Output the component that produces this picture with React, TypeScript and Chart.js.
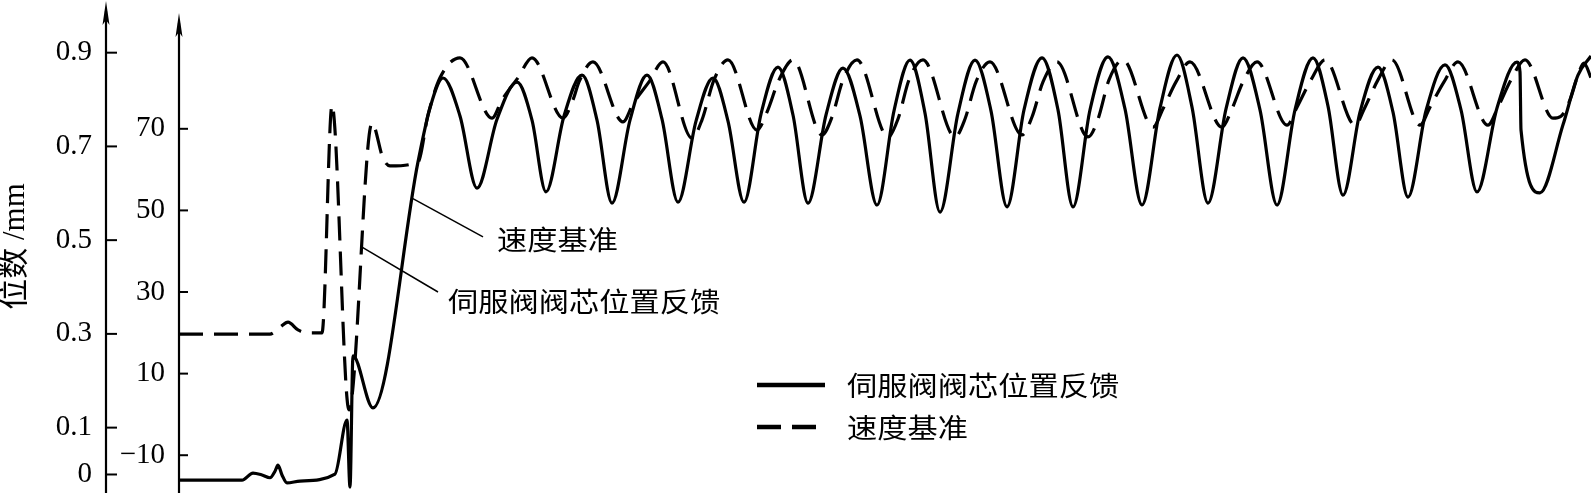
import React, { useEffect, useRef } from 'react';
import { Chart, registerables } from 'chart.js';

Chart.register(...registerables);

// time axis (arbitrary units)
const TIME_SOLID = [0, 6.3, 7.4, 8.3, 9.1, 9.6, 9.9, 10.3, 10.8, 12.1, 15.6, 16.8, 17.1, 17.4, 19.4, 23.9, 25.1, 26.4, 28.1, 29.8, 31.8, 33.8, 35.3, 36.7, 38.5, 40.3, 41.8, 43.3, 45.1, 46.8, 48.3, 49.9, 51.7, 53.4, 54.9, 56.5, 58.2, 59.9, 61.4, 62.9, 64.7, 66.4, 68.1, 69.8, 71.5, 73.1, 74.6, 76.1, 77.9, 79.6, 81.2, 82.8, 84.5, 86.3, 87.9, 89.4, 91.1, 92.9, 94.6, 96.3, 98.1, 99.8, 101.3, 102.9, 104.7, 106.4, 108.1, 109.8, 111.6, 113.4, 114.9, 116.4, 118.1, 119.9, 121.4, 122.9, 124.7, 126.6, 128.2, 129.8, 131.8, 133.8, 134.1, 134.2, 136.1, 138.4, 139.9, 141.2];
// 伺服阀阀芯位置反馈 (mm, outer axis)
const SPOOL_MM = [-0.012, -0.012, 0.003, -0.001, -0.007, 0.007, 0.020, -0.001, -0.018, -0.014, 0.001, 0.116, -0.027, 0.253, 0.142, 0.667, 0.782, 0.846, 0.765, 0.611, 0.758, 0.837, 0.756, 0.603, 0.765, 0.852, 0.756, 0.579, 0.756, 0.852, 0.758, 0.581, 0.754, 0.846, 0.754, 0.581, 0.769, 0.869, 0.767, 0.579, 0.767, 0.867, 0.765, 0.575, 0.776, 0.884, 0.771, 0.560, 0.771, 0.884, 0.776, 0.571, 0.778, 0.889, 0.778, 0.571, 0.778, 0.891, 0.780, 0.575, 0.782, 0.895, 0.784, 0.579, 0.780, 0.889, 0.778, 0.575, 0.778, 0.889, 0.786, 0.596, 0.773, 0.869, 0.773, 0.592, 0.776, 0.874, 0.778, 0.603, 0.782, 0.880, 0.859, 0.735, 0.601, 0.746, 0.852, 0.893];

const TIME_DASHED = [0, 9.1, 10.1, 10.9, 11.9, 12.8, 14.3, 15.3, 17.0, 19.3, 20.4, 21.1, 23.9, 24.9, 26.1, 28.1, 31.3, 32.3, 33.9, 35.3, 38.4, 39.4, 40.0, 41.4, 44.4, 45.4, 47.0, 48.4, 51.3, 52.3, 53.5, 54.9, 57.8, 58.8, 60.0, 61.4, 64.3, 65.3, 66.4, 67.8, 70.9, 71.9, 73.0, 74.4, 77.6, 78.6, 79.7, 81.1, 84.3, 85.3, 86.4, 87.8, 90.9, 91.9, 93.0, 94.4, 97.4, 98.4, 99.7, 101.1, 104.3, 105.3, 106.4, 107.8, 110.8, 111.8, 113.2, 114.6, 117.6, 118.6, 119.9, 121.3, 124.1, 125.1, 126.5, 127.9, 130.9, 131.9, 133.2, 134.6, 137.4, 138.2, 139.1, 139.9, 140.5, 141.2];
// 速度基准 (inner axis)
const SPEED_REF = [19.7, 19.7, 21.4, 22.6, 20.7, 20.0, 20.0, 75.8, 1.1, 71.4, 62.8, 60.9, 61.9, 73.4, 82.5, 87.4, 72.6, 77.1, 82.5, 87.4, 72.6, 77.1, 81.5, 86.4, 71.7, 76.1, 81.5, 86.4, 67.7, 72.2, 82.0, 86.9, 69.7, 74.1, 82.0, 86.9, 68.5, 72.9, 82.0, 86.9, 68.0, 72.4, 82.0, 86.9, 68.0, 72.4, 81.5, 86.4, 68.5, 72.9, 81.5, 86.4, 68.0, 72.4, 82.0, 86.9, 70.4, 74.9, 81.5, 86.4, 70.4, 74.9, 81.5, 86.4, 70.9, 75.3, 82.0, 86.9, 70.9, 75.3, 82.0, 86.9, 70.9, 75.3, 81.5, 86.4, 70.9, 75.3, 82.0, 86.9, 72.6, 73.1, 77.1, 83.2, 86.1, 82.5];

const OUTER_TICKS = [0, 0.1, 0.3, 0.5, 0.7, 0.9];
const INNER_TICKS = [-10, 10, 30, 50, 70];
const SERIES_LABELS = ['伺服阀阀芯位置反馈', '速度基准'];
const AXIS_TITLE = '位数 /mm';
const X_RANGE = [0, 141.2];
const OUTER_RANGE = [-0.0395, 1.0124];
const INNER_RANGE = [-19.26, 101.57];

// callouts in data units (x, inner axis)
const CALLOUT_TEXTS = ['速度基准', '伺服阀阀芯位置反馈'];
const CALLOUT_FROM = [[23.3, 53.0], [18.3, 41.0]];
const CALLOUT_TO = [[30.4, 43.5], [25.9, 30.0]];
const CALLOUT_TEXT_AT = [[31.8, 42.8], [26.9, 27.5]];

const CJK_FONT = "27px 'Noto Sans CJK SC', 'Noto Sans CJK JP', sans-serif";
const SERIF = "'Liberation Serif', 'DejaVu Serif', serif";
const DASH = [24, 11];

function stretchedText(ctx: CanvasRenderingContext2D, text: string, x: number, y: number) {
  ctx.save();
  ctx.translate(x, y);
  ctx.scale(1.12, 1);
  ctx.fillText(text, 0, 0);
  ctx.restore();
}

const overlayPlugin = {
  id: 'overlay',
  afterDraw(chart: any) {
    const ctx: CanvasRenderingContext2D = chart.ctx;
    const xs = chart.scales.x;
    const yo = chart.scales.yOuter;
    const yi = chart.scales.yInner;
    const area = chart.chartArea;
    ctx.save();
    ctx.strokeStyle = '#000';
    ctx.fillStyle = '#000';

    const drawAxis = (scale: any, ticks: number[], tickLen: number, tipY: number) => {
      const x = scale.right;
      ctx.lineWidth = 2.2;
      ctx.beginPath();
      ctx.moveTo(x, area.bottom + 2);
      ctx.lineTo(x, tipY + 10);
      ctx.stroke();
      ctx.beginPath();
      ctx.moveTo(x, tipY);
      ctx.lineTo(x - 3.5, tipY + 24);
      ctx.lineTo(x, tipY + 19);
      ctx.lineTo(x + 3.5, tipY + 24);
      ctx.closePath();
      ctx.fill();
      ctx.lineWidth = 2;
      ticks.forEach((v) => {
        const y = scale.getPixelForValue(v);
        ctx.beginPath();
        ctx.moveTo(x, y);
        ctx.lineTo(x + tickLen, y);
        ctx.stroke();
      });
    };
    drawAxis(yo, OUTER_TICKS, 11, area.top + 1);
    drawAxis(yi, INNER_TICKS, 9, area.top + 13);

    // callouts
    ctx.font = CJK_FONT;
    ctx.textBaseline = 'middle';
    ctx.textAlign = 'left';
    ctx.lineWidth = 1.5;
    CALLOUT_TEXTS.forEach((t, i) => {
      ctx.beginPath();
      ctx.moveTo(xs.getPixelForValue(CALLOUT_FROM[i][0]), yi.getPixelForValue(CALLOUT_FROM[i][1]));
      ctx.lineTo(xs.getPixelForValue(CALLOUT_TO[i][0]), yi.getPixelForValue(CALLOUT_TO[i][1]));
      ctx.stroke();
      stretchedText(ctx, t, xs.getPixelForValue(CALLOUT_TEXT_AT[i][0]), yi.getPixelForValue(CALLOUT_TEXT_AT[i][1]));
    });

    // legend
    const lx = area.left + 578;
    const ly = area.top + 385;
    const rowGap = 42;
    chart.data.datasets.forEach((ds: any, i: number) => {
      const y = ly + i * rowGap;
      ctx.lineWidth = 4.5;
      ctx.setLineDash(ds.borderDash || []);
      ctx.beginPath();
      ctx.moveTo(lx, y);
      ctx.lineTo(lx + 68, y);
      ctx.stroke();
      ctx.setLineDash([]);
      stretchedText(ctx, ds.label, lx + 90, y + 1);
    });
    ctx.restore();
  },
};

export default function App() {
  const ref = useRef<HTMLCanvasElement | null>(null);
  useEffect(() => {
    if (!ref.current) return;
    const zeroPad = (s: any) => {
      s.paddingTop = 0;
      s.paddingBottom = 0;
      s.paddingLeft = 0;
      s.paddingRight = 0;
    };
    const chart = new Chart(ref.current, {
      type: 'line',
      data: {
        datasets: [
          {
            label: SERIES_LABELS[0],
            data: TIME_SOLID.map((t, i) => ({ x: t, y: SPOOL_MM[i] })),
            xAxisID: 'x',
            yAxisID: 'yOuter',
            borderColor: '#000',
            borderWidth: 3.2,
            pointRadius: 0,
            fill: false,
            tension: 0.4,
            cubicInterpolationMode: 'monotone',
            borderJoinStyle: 'round',
          },
          {
            label: SERIES_LABELS[1],
            data: TIME_DASHED.map((t, i) => ({ x: t, y: SPEED_REF[i] })),
            xAxisID: 'x',
            yAxisID: 'yInner',
            borderColor: '#000',
            borderWidth: 3.2,
            borderDash: DASH,
            pointRadius: 0,
            fill: false,
            tension: 0.4,
            cubicInterpolationMode: 'monotone',
            borderJoinStyle: 'round',
          },
        ],
      },
      options: {
        responsive: false,
        animation: false,
        layout: { padding: 0 },
        plugins: { legend: { display: false }, tooltip: { enabled: false }, title: { display: false } },
        scales: {
          x: {
            type: 'linear',
            min: X_RANGE[0],
            max: X_RANGE[1],
            display: false,
            afterFit: zeroPad,
          },
          yOuter: {
            type: 'linear',
            position: 'left',
            weight: 1,
            min: OUTER_RANGE[0],
            max: OUTER_RANGE[1],
            grid: { display: false, drawTicks: false },
            border: { display: false },
            afterBuildTicks: (s: any) => {
              s.ticks = OUTER_TICKS.map((v) => ({ value: v }));
            },
            afterFit: (s: any) => {
              zeroPad(s);
              s.width = 106;
            },
            ticks: {
              color: '#000',
              padding: 14,
              font: { family: SERIF, size: 29 },
              callback: (v: any) => String(v),
            },
            title: {
              display: true,
              text: AXIS_TITLE,
              color: '#000',
              padding: 0,
              font: { family: "'Liberation Serif', 'Noto Sans CJK SC', serif", size: 31, lineHeight: 1 },
            },
          },
          yInner: {
            type: 'linear',
            position: 'left',
            weight: 0,
            min: INNER_RANGE[0],
            max: INNER_RANGE[1],
            grid: { display: false, drawTicks: false },
            border: { display: false },
            afterBuildTicks: (s: any) => {
              s.ticks = INNER_TICKS.map((v) => ({ value: v }));
            },
            afterFit: (s: any) => {
              zeroPad(s);
              s.width = 73;
            },
            ticks: {
              color: '#000',
              padding: 14,
              font: { family: SERIF, size: 29 },
              callback: (v: any) => (Number(v) < 0 ? '\u2212' + Math.abs(Number(v)) : String(v)),
            },
          },
        },
      } as any,
      plugins: [overlayPlugin],
    });
    return () => chart.destroy();
  }, []);

  return (
    <div style={{ position: 'absolute', left: 0, top: 0, width: 1591, height: 493, background: '#fff' }}>
      <canvas ref={ref} width={1591} height={493} style={{ display: 'block', width: 1591, height: 493 }} />
    </div>
  );
}
